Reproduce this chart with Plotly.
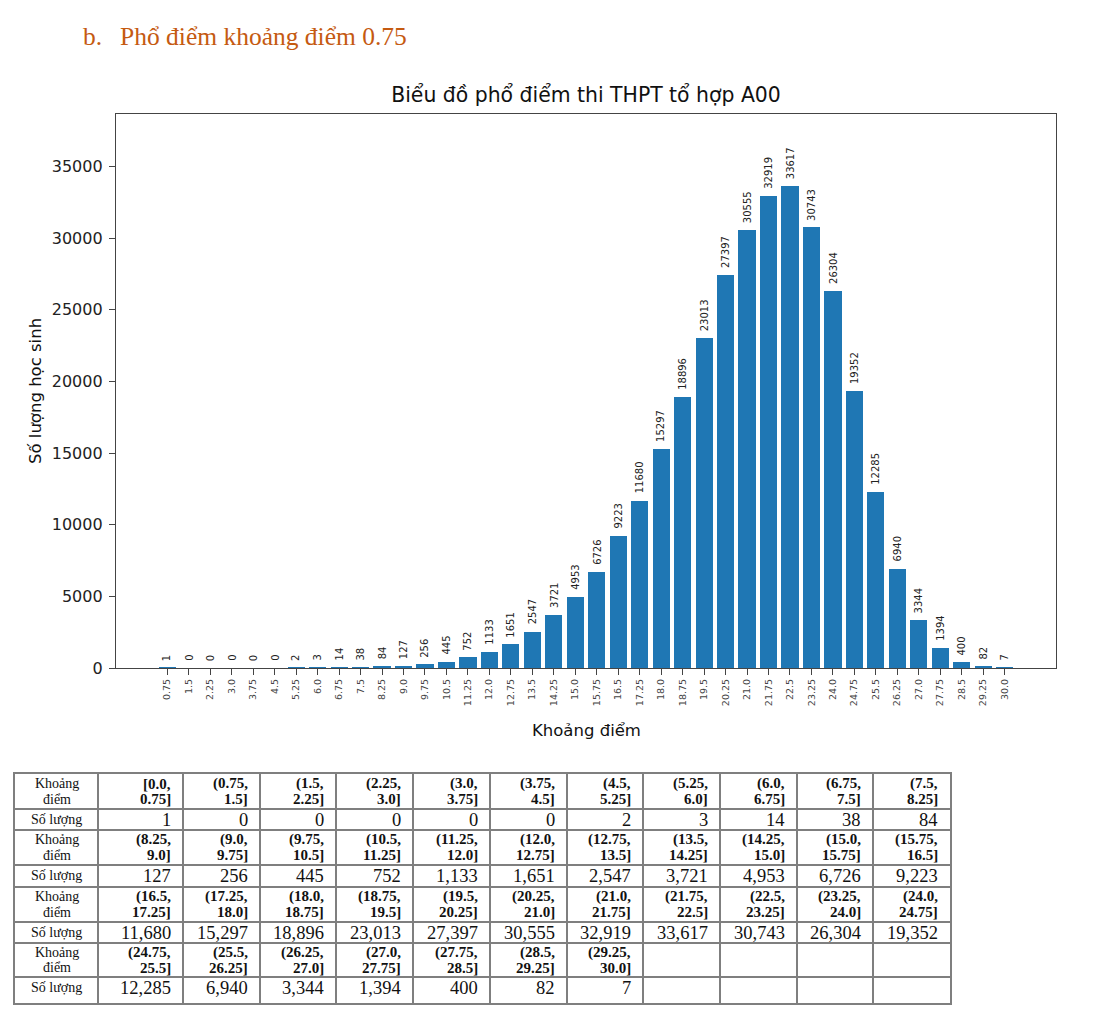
import plotly.graph_objects as go

# ---------------- data ----------------
tick_labels = ["0.75", "1.5", "2.25", "3.0", "3.75", "4.5", "5.25", "6.0", "6.75", "7.5",
               "8.25", "9.0", "9.75", "10.5", "11.25", "12.0", "12.75", "13.5", "14.25", "15.0",
               "15.75", "16.5", "17.25", "18.0", "18.75", "19.5", "20.25", "21.0", "21.75", "22.5",
               "23.25", "24.0", "24.75", "25.5", "26.25", "27.0", "27.75", "28.5", "29.25", "30.0"]
counts = [1, 0, 0, 0, 0, 0, 2, 3, 14, 38,
          84, 127, 256, 445, 752, 1133, 1651, 2547, 3721, 4953,
          6726, 9223, 11680, 15297, 18896, 23013, 27397, 30555, 32919, 33617,
          30743, 26304, 19352, 12285, 6940, 3344, 1394, 400, 82, 7]
first_edge = "0.0"
y_ticks = [0, 5000, 10000, 15000, 20000, 25000, 30000, 35000]

heading_prefix = "b."
heading_text = "Phổ điểm khoảng điểm 0.75"
chart_title = "Biểu đồ phổ điểm thi THPT tổ hợp A00"
x_title = "Khoảng điểm"
y_title = "Số lượng học sinh"
row_label_interval = ["Khoảng", "điểm"]
row_label_count = "Số lượng"

# ---------------- geometry (px in the 1096x1035 window) ----------------
OFF = 8                      # default page body margin
W, H = 1096, 1035
FW, FH = W - OFF, H - OFF    # figure size
PL, PR, PT, PB = 116, 1056, 114, 668   # chart plot area
TL, TT = 15, 774                        # table top-left
col_widths = [83, 85] + [76.7] * 10
row_heights = [35, 21, 35, 22, 35, 21, 34, 26]
TR = TL + sum(col_widths)
TB = TT + sum(row_heights)


def px_x(v):
    return (v - OFF) / FW


def px_y(v):
    return 1 - (v - OFF) / FH


x_vals = [float(t) for t in tick_labels]
step = x_vals[1] - x_vals[0]
bar_w = 0.8 * step
pad = (0.05 * (len(x_vals) - 1 + 0.8) + 0.4) * step
x_range = [x_vals[0] - pad, x_vals[-1] + pad]
y_range = [0, max(counts) * 1.15]

fig = go.Figure()

fig.add_trace(go.Bar(
    x=x_vals, y=counts, width=bar_w,
    marker=dict(color="#1f77b4", line=dict(width=0)),
    xaxis="x", yaxis="y", showlegend=False, hoverinfo="x+y",
))

annotations = []
for xv, c in zip(x_vals, counts):
    annotations.append(dict(
        x=xv, y=c, xref="x", yref="y", text=str(c), showarrow=False,
        textangle=-90, xanchor="center", yanchor="bottom", yshift=5,
        font=dict(family="DejaVu Sans", size=10, color="#222222"),
    ))

# axis titles
annotations.append(dict(
    x=px_x(35), y=px_y((PT + PB) / 2), xref="paper", yref="paper", text=y_title,
    showarrow=False, textangle=-90, xanchor="center", yanchor="middle",
    font=dict(family="DejaVu Sans", size=16.5, color="#111111"),
))
annotations.append(dict(
    x=px_x(586), y=px_y(730), xref="paper", yref="paper", text=x_title,
    showarrow=False, xanchor="center", yanchor="middle",
    font=dict(family="DejaVu Sans", size=16.5, color="#111111"),
))

# heading
annotations.append(dict(
    x=px_x(81), y=px_y(37), xref="paper", yref="paper", text=heading_prefix,
    showarrow=False, xanchor="left", yanchor="middle",
    font=dict(family="Liberation Serif", size=25.5, color="#C55A11"),
))
annotations.append(dict(
    x=px_x(118), y=px_y(37), xref="paper", yref="paper", text=heading_text,
    showarrow=False, xanchor="left", yanchor="middle",
    font=dict(family="Liberation Serif", size=25.5, color="#C55A11"),
))

# ---------------- table (drawn on its own axes, units = px) ----------------
ncols = 11
edges = [first_edge] + tick_labels
col_lefts = [sum(col_widths[:k]) for k in range(len(col_widths))]
col_rights = [col_lefts[k] + col_widths[k] for k in range(len(col_widths))]
row_tops = [sum(row_heights[:k]) for k in range(len(row_heights))]
CELL_PAD = 10
LINE_GAP = 7.75
serif = "Liberation Serif"
nblocks = (len(counts) + ncols - 1) // ncols

for b in range(nblocks):
    r_int, r_cnt = 2 * b, 2 * b + 1
    c_int = row_tops[r_int] + row_heights[r_int] / 2
    y_cnt = row_tops[r_cnt] + 10.75
    # label column
    for k, word in enumerate(row_label_interval):
        annotations.append(dict(
            x=col_widths[0] / 2, y=c_int + (2 * k - 1) * LINE_GAP, xref="x2", yref="y2",
            text=word, showarrow=False, xanchor="center", yanchor="middle",
            font=dict(family=serif, size=14, color="#111111")))
    annotations.append(dict(
        x=col_widths[0] / 2, y=y_cnt, xref="x2", yref="y2",
        text=row_label_count, showarrow=False, xanchor="center", yanchor="middle",
        font=dict(family=serif, size=14, color="#111111")))
    for j in range(ncols):
        i = b * ncols + j
        if i >= len(counts):
            continue
        xr = col_rights[j + 1] - CELL_PAD
        opener = "[" if i == 0 else "("
        lines = [opener + edges[i] + ",", edges[i + 1] + "]"]
        for k, ln in enumerate(lines):
            annotations.append(dict(
                x=xr, y=c_int + (2 * k - 1) * LINE_GAP, xref="x2", yref="y2",
                text="<b>%s</b>" % ln, showarrow=False, xanchor="right", yanchor="middle",
                font=dict(family=serif, size=15, color="#111111")))
        annotations.append(dict(
            x=xr, y=y_cnt, xref="x2", yref="y2",
            text="{:,}".format(counts[i]), showarrow=False, xanchor="right", yanchor="middle",
            font=dict(family=serif, size=18.5, color="#111111")))

grid_col = "#7f7f7f"
axis_line = "#444444"
fig.update_layout(
    width=FW, height=FH,
    margin=dict(l=0, r=0, t=0, b=0),
    paper_bgcolor="white", plot_bgcolor="white",
    font=dict(family="DejaVu Sans", color="#222222"),
    title=dict(text=chart_title, x=px_x((PL + PR) / 2), y=px_y(95),
               xanchor="center", yanchor="middle",
               font=dict(family="DejaVu Sans", size=20.4, color="#111111")),
    xaxis=dict(
        domain=[px_x(PL), px_x(PR)], range=x_range, anchor="y",
        tickmode="array", tickvals=x_vals, ticktext=tick_labels,
        tickangle=-90, tickfont=dict(size=9.5, color="#444444"),
        ticks="outside", ticklen=6, tickcolor=axis_line,
        showline=True, linecolor=axis_line, linewidth=1.3, mirror=True,
        showgrid=False, zeroline=False, automargin=False,
    ),
    yaxis=dict(
        domain=[px_y(PB), px_y(PT)], range=y_range, anchor="x",
        tickmode="array", tickvals=y_ticks, tickformat="d",
        tickfont=dict(size=16, color="#222222"),
        ticks="outside", ticklen=6, tickcolor=axis_line, ticklabelstandoff=3,
        showline=True, linecolor=axis_line, linewidth=1.3, mirror=True,
        showgrid=False, zeroline=False, automargin=False,
    ),
    xaxis2=dict(
        domain=[px_x(TL), px_x(TR)], range=[0, sum(col_widths)], anchor="y2",
        tickmode="array", tickvals=col_rights[:-1], showticklabels=False, ticks="",
        showgrid=True, gridcolor=grid_col, gridwidth=1.6,
        showline=True, linecolor=grid_col, linewidth=1.6, mirror=True,
        zeroline=False, fixedrange=True, automargin=False,
    ),
    yaxis2=dict(
        domain=[px_y(TB), px_y(TT)], range=[sum(row_heights), 0], anchor="x2",
        tickmode="array", tickvals=row_tops[1:], showticklabels=False, ticks="",
        showgrid=True, gridcolor=grid_col, gridwidth=1.6,
        showline=True, linecolor=grid_col, linewidth=1.6, mirror=True,
        zeroline=False, fixedrange=True, automargin=False,
    ),
    annotations=annotations,
    bargap=0,
)

fig.write_html("out.html")
